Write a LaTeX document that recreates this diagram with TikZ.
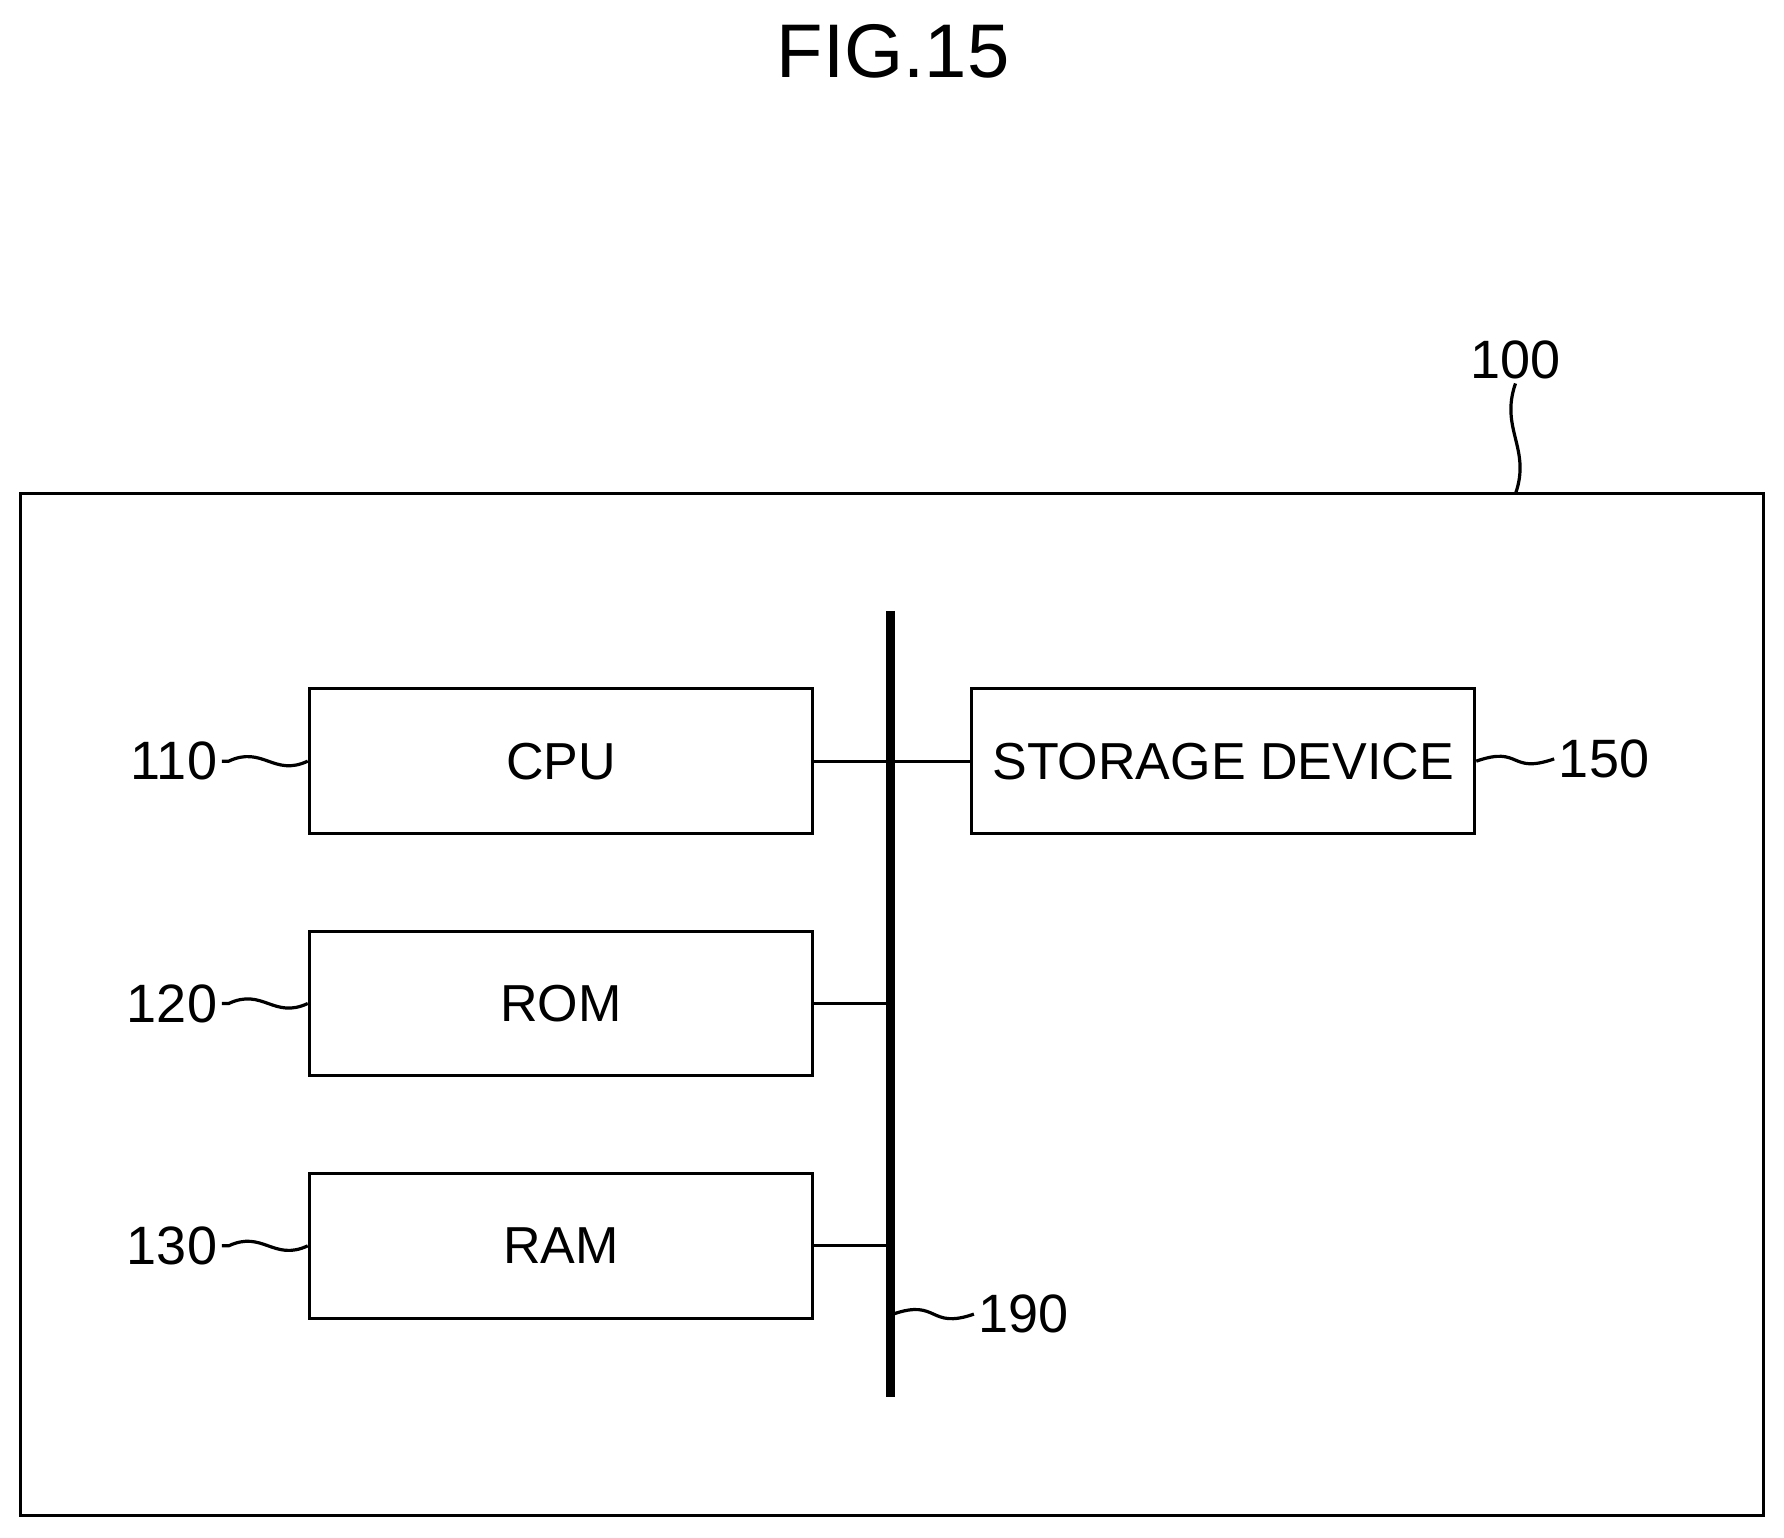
\documentclass[tikz,border=0pt]{standalone}
\usepackage{fontspec}
\setmainfont{Liberation Sans}
\usetikzlibrary{positioning}
\tikzset{
  block/.style={draw, thick, minimum width=4.42cm, minimum height=1.27cm, font=\fontsize{13}{15}\selectfont},
  refnum/.style={font=\fontsize{13.5}{16}\selectfont, inner sep=1pt},
  lead/.style={thick},
  conn/.style={thick}
}
\begin{document}
\begin{tikzpicture}[x=0.01cm,y=-0.01cm]
    \useasboundingbox (0,0) rectangle (1568,1351);
    \node [font=\fontsize{19}{22}\selectfont] at (785,45) (title) {FIG.15};
    \draw [thick] (18,434) rectangle (1550,1332);
    \node [block] at (493,669) (cpu) {CPU};
    \node [block] at (493,882) (rom) {ROM};
    \node [block] at (493,1095) (ram) {RAM};
    \node [block] at (1075,669) (storage) {STORAGE DEVICE};
    \coordinate (bustop) at (783,537);
    \coordinate (busbot) at (783,1228);
    \draw [line width=2.2pt] (bustop) -- (busbot);
    \draw [conn] (cpu.east) -- (storage.west);
    \draw [conn] (rom.east) -- (rom.east -| bustop);
    \draw [conn] (ram.east) -- (ram.east -| bustop);
    % reference numbers
    \node [refnum, anchor=east] at (195,669) (n110) {110};
    \node [refnum, anchor=east] at (195,882) (n120) {120};
    \node [refnum, anchor=east] at (195,1095) (n130) {130};
    \node [refnum, anchor=west] at (1366,667) (n150) {150};
    \node [refnum, anchor=west] at (856,1155) (n190) {190};
    \node [refnum] at (1332,316) (n100) {100};
    \draw [lead] (n110.east) -- +(6,0) .. controls +(30,-14) and +(-30,14) .. (cpu.west);
    \draw [lead] (n120.east) -- +(6,0) .. controls +(30,-14) and +(-30,14) .. (rom.west);
    \draw [lead] (n130.east) -- +(6,0) .. controls +(30,-14) and +(-30,14) .. (ram.west);
    \draw [lead] (storage.east) .. controls +(40,-14) and +(-40,14) .. (n150.west);
    \coordinate (busref) at (785,1155);
    \draw [lead] (busref) .. controls +(40,-14) and +(-40,14) .. (n190.west);
    \coordinate (boxtop) at (1332,434);
    \draw [lead] (n100.south) .. controls +(-14,40) and +(14,-40) .. (boxtop);
\end{tikzpicture}
\end{document}
